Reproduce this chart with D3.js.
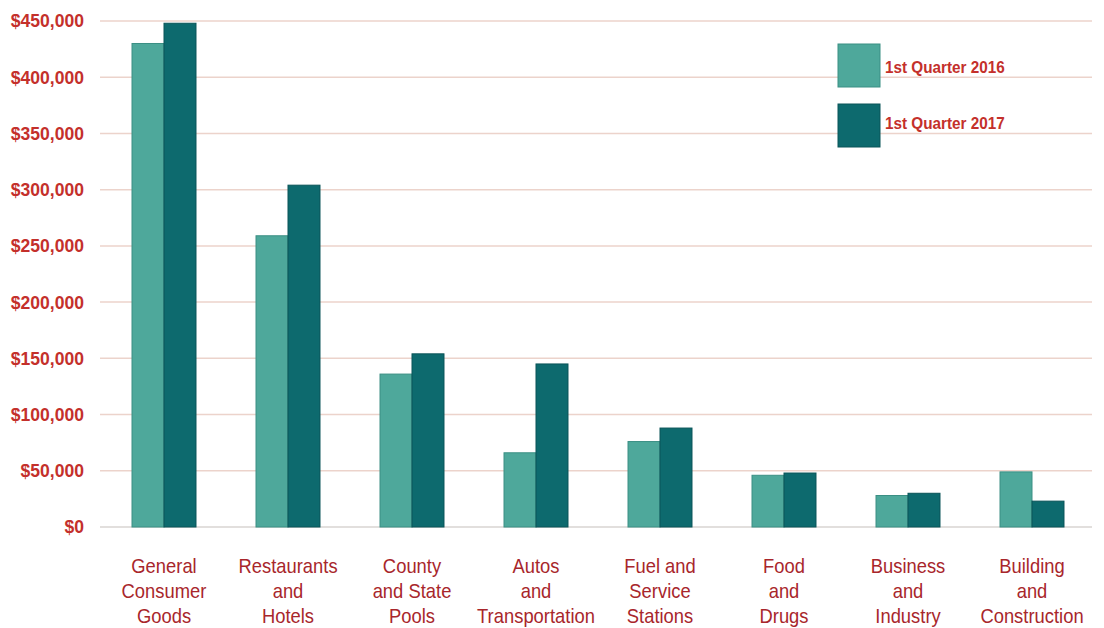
<!DOCTYPE html>
<html>
<head>
<meta charset="utf-8">
<script src="https://cdn.jsdelivr.net/npm/d3@7"></script>
<style>
  body { margin: 0; background: #fff; }
  svg text { font-family: "Liberation Sans Narrow", "Arial Narrow", "Liberation Sans", sans-serif; }
</style>
</head>
<body>
<div id="container"></div>
<script>
var categories = [
  ["General", "Consumer", "Goods"],
  ["Restaurants", "and", "Hotels"],
  ["County", "and State", "Pools"],
  ["Autos", "and", "Transportation"],
  ["Fuel and", "Service", "Stations"],
  ["Food", "and", "Drugs"],
  ["Business", "and", "Industry"],
  ["Building", "and", "Construction"]
];
var seriesNames = ["1st Quarter 2016", "1st Quarter 2017"];
var q1_2016 = [430000, 259000, 136000, 66000, 76000, 46000, 28000, 49000];
var q1_2017 = [448000, 304000, 154000, 145000, 88000, 48000, 30000, 23000];
var yTicks = [0, 50000, 100000, 150000, 200000, 250000, 300000, 350000, 400000, 450000];

var W = 1104, H = 628;
var colors = ["#4ea89b", "#0d6a6e"];
var strokes = ["#3b8f84", "#0a5458"];
var red = "#c4302b";

var svg = d3.select("#container").append("svg").attr("width", W).attr("height", H);

var x0 = d3.scaleBand()
  .domain(d3.range(categories.length))
  .range([102, 1094])
  .paddingInner(0.484)
  .paddingOuter(0.242);
var x1 = d3.scaleBand().domain([0, 1]).range([0, x0.bandwidth()]);
var y = d3.scaleLinear().domain([0, 450000]).range([527, 21]);

// gridlines
svg.append("g").selectAll("line").data(yTicks).join("line")
  .attr("x1", 100).attr("x2", 1092)
  .attr("y1", function(d) { return y(d); }).attr("y2", function(d) { return y(d); })
  .attr("stroke", function(d) { return d === 0 ? "#d9d4d2" : "#ecd3cb"; })
  .attr("stroke-width", 1.5);

// y axis labels (narrowed a little, the original uses a condensed face)
var fmt = d3.format(",");
svg.append("g").selectAll("text").data(yTicks).join("text")
  .attr("transform", function(d) { return "translate(84," + y(d) + ") scale(0.95,1)"; })
  .attr("dy", "0.35em")
  .attr("text-anchor", "end")
  .style("font-size", "18.5px").style("font-weight", "bold")
  .attr("fill", red)
  .text(function(d) { return "$" + fmt(d); });

// bars
var series = [q1_2016, q1_2017];
var groups = svg.append("g").selectAll("g").data(categories).join("g")
  .attr("transform", function(d, i) { return "translate(" + x0(i) + ",0)"; });
groups.selectAll("rect").data(function(d, i) { return series.map(function(s, k) { return {k: k, v: s[i]}; }); })
  .join("rect")
  .attr("x", function(d) { return x1(d.k); })
  .attr("width", x1.bandwidth())
  .attr("y", function(d) { return y(d.v); })
  .attr("height", function(d) { return y(0) - y(d.v); })
  .attr("fill", function(d) { return colors[d.k]; })
  .attr("stroke", function(d) { return strokes[d.k]; })
  .attr("stroke-width", 1);

// category labels
var labels = svg.append("g").selectAll("text").data(categories).join("text")
  .attr("transform", function(d, i) { return "translate(" + (x0(i) + x0.bandwidth() / 2) + ",573) scale(0.92,1)"; })
  .attr("text-anchor", "middle")
  .attr("fill", "#a8262b")
  .style("font-size", "20px");
labels.selectAll("tspan").data(function(d) { return d; })
  .join("tspan")
  .attr("x", 0)
  .attr("y", function(d, j) { return j * 25; })
  .text(function(d) { return d; });

// legend
var legend = svg.append("g").selectAll("g").data(seriesNames).join("g")
  .attr("transform", function(d, i) { return "translate(838," + (44 + i * 60) + ")"; });
legend.append("rect")
  .attr("width", 42).attr("height", 43)
  .attr("fill", function(d, i) { return colors[i]; })
  .attr("stroke", function(d, i) { return strokes[i]; });
legend.append("text")
  .attr("transform", function(d, i) { return "translate(47," + (29 - i * 4) + ") scale(0.9,1)"; })
  .attr("fill", red)
  .style("font-size", "17px").style("font-weight", "bold")
  .text(function(d) { return d; });
</script>
</body>
</html>
